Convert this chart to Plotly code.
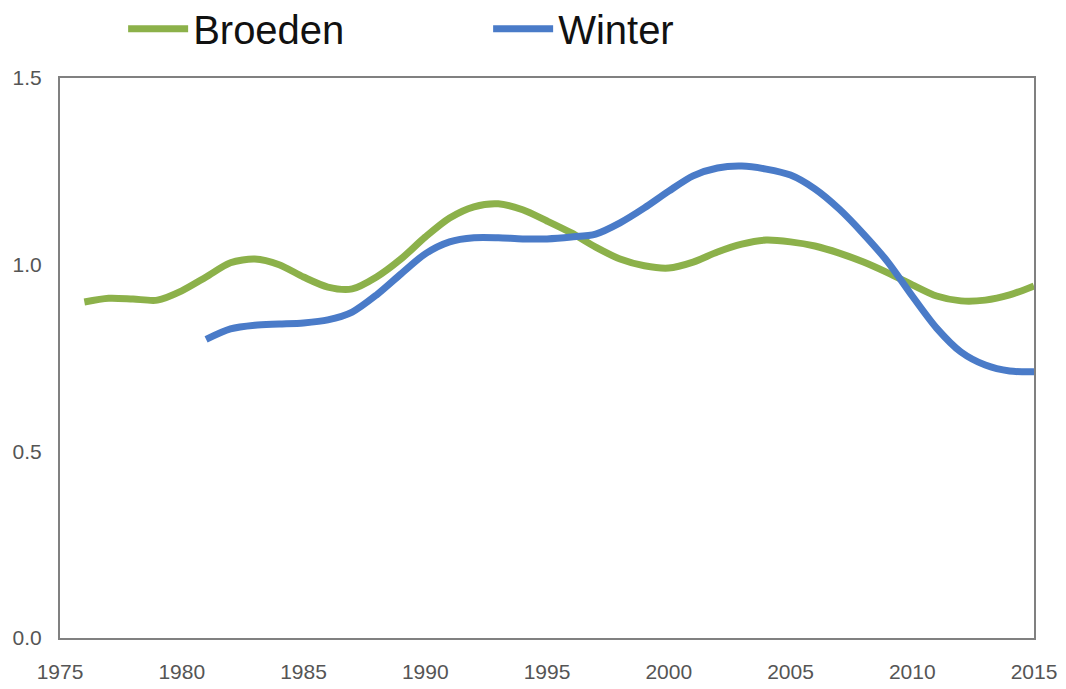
import plotly.graph_objects as go

years_broeden = list(range(1976, 2016))
broeden = [0.90, 0.91, 0.908, 0.905, 0.93, 0.967, 1.005, 1.015, 1.0, 0.967,
           0.94, 0.935, 0.967, 1.015, 1.074, 1.125, 1.155, 1.163, 1.147, 1.117,
           1.085, 1.047, 1.015, 0.997, 0.991, 1.007, 1.034, 1.055, 1.066, 1.061,
           1.05, 1.031, 1.007, 0.978, 0.946, 0.916, 0.903, 0.905, 0.919, 0.943]

years_winter = list(range(1981, 2016))
winter = [0.80, 0.828, 0.838, 0.841, 0.844, 0.852, 0.873, 0.919, 0.975, 1.029,
          1.061, 1.072, 1.072, 1.069, 1.069, 1.074, 1.082, 1.112, 1.152, 1.197,
          1.238, 1.259, 1.264, 1.256, 1.24, 1.203, 1.149, 1.082, 1.007, 0.916,
          0.83, 0.766, 0.731, 0.715, 0.713]

x_ticks = list(range(1975, 2016, 5))
y_ticks = [0.0, 0.5, 1.0, 1.5]

green = "#8CB14A"
blue = "#4A7BC8"

fig = go.Figure()
fig.add_trace(go.Scatter(x=years_broeden, y=broeden, mode="lines", name="Broeden",
                         line=dict(color=green, width=7, shape="spline", smoothing=0.8)))
fig.add_trace(go.Scatter(x=years_winter, y=winter, mode="lines", name="Winter",
                         line=dict(color=blue, width=7, shape="spline", smoothing=0.8)))

tickfont = dict(family="Liberation Sans Narrow, Liberation Sans, Arial", size=21, color="#555555")
fig.update_layout(
    width=1066, height=689,
    margin=dict(l=52, r=40, t=70, b=59),
    paper_bgcolor="white", plot_bgcolor="white",
    showlegend=True,
    legend=dict(orientation="h", x=0.108, xanchor="left", y=0.97, yanchor="middle",
                yref="container", xref="container",
                font=dict(family="Liberation Sans, Arial", size=40, color="#111111"),
                itemwidth=60, entrywidth=290, bgcolor="rgba(0,0,0,0)"),
    xaxis=dict(range=[1975, 2015], tickvals=x_ticks, ticktext=[str(v) for v in x_ticks],
               showgrid=False, zeroline=False, showline=True, linecolor="#808080", linewidth=2,
               mirror=True, ticks="", tickfont=tickfont, automargin=False, ticklabelstandoff=14),
    yaxis=dict(range=[0, 1.5], tickvals=y_ticks, ticktext=["0.0", "0.5", "1.0", "1.5"],
               showgrid=False, zeroline=False, showline=True, linecolor="#808080", linewidth=2,
               mirror=True, ticks="", tickfont=tickfont, automargin=False, ticklabelstandoff=12),
)
fig.write_html("out.html")
